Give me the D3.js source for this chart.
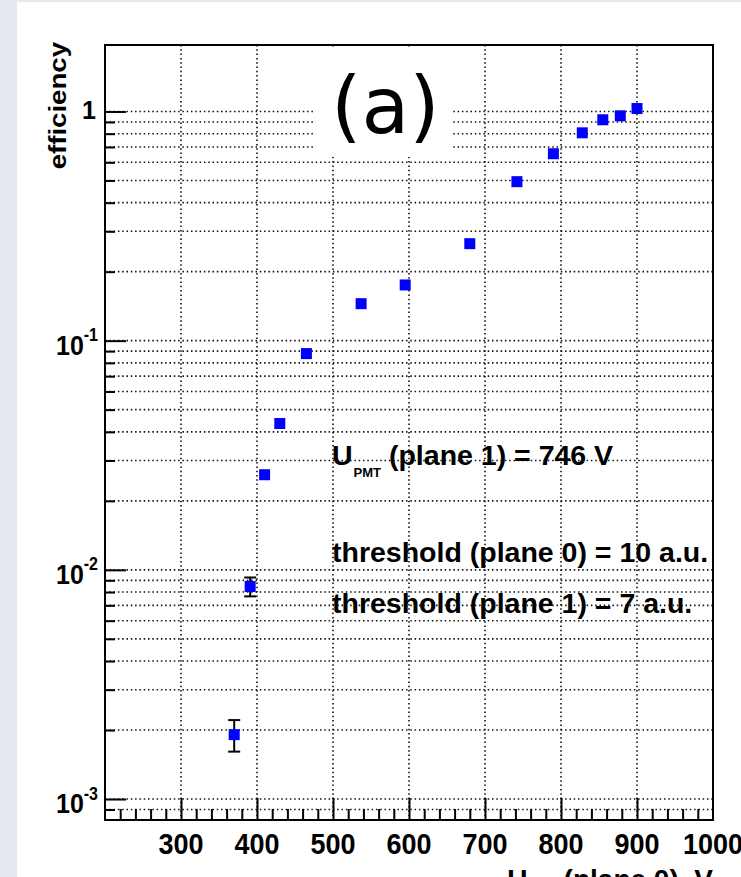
<!DOCTYPE html>
<html>
<head>
<meta charset="utf-8">
<script src="https://cdn.jsdelivr.net/npm/d3@7/dist/d3.min.js"></script>
<style>
  html, body { margin: 0; padding: 0; background: #e4e8f0; }
  svg { display: block; }
</style>
</head>
<body>
<script>
// ---- data ----
const voltages = [370, 391, 410, 430, 465, 537, 595, 680, 742, 790, 828, 855, 878, 900];
const efficiency = [0.00191, 0.00846, 0.0260, 0.0435, 0.0878, 0.145, 0.175, 0.265, 0.494, 0.654, 0.807, 0.92, 0.957, 1.03];
const effError = [0.0003, 0.0008, 0.0012, 0.0016, 0.0025, 0.003, 0.003, 0.004, 0.005, 0.006, 0.006, 0.006, 0.006, 0.006];
const xTickValues = [300, 400, 500, 600, 700, 800, 900, 1000];
const xTickLabels = ["300", "400", "500", "600", "700", "800", "900", "1000"];
const yTickValues = [0.001, 0.01, 0.1, 1];
const yTickBase = ["10", "10", "10", "1"];
const yTickExp = ["-3", "-2", "-1", ""];
const annotations = [
  { main: "U", sub: "PMT", rest: " (plane 1) = 746 V" },
  { main: "threshold (plane 0) = 10 a.u.", sub: "", rest: "" },
  { main: "threshold (plane 1) = 7 a.u.", sub: "", rest: "" }
];
const panelLabel = "(a)";
const yTitle = "efficiency";

// ---- layout ----
const W = 741, H = 877;
const L = 105, R = 713, T = 45, B = 820;
const FONT = "'Liberation Sans', Arial, Helvetica, sans-serif";

const svg = d3.select("body").append("svg").attr("width", W).attr("height", H);
svg.append("rect").attr("x", 0).attr("y", 0).attr("width", W).attr("height", H).attr("fill", "#e4e8f0");
svg.append("rect").attr("x", 17).attr("y", 2).attr("width", W - 17).attr("height", H - 2).attr("fill", "#ffffff");

const x = d3.scaleLinear().domain([200, 1000]).range([L, R]);
const y = d3.scaleLog().domain([8.1e-4, 1.95]).range([B, T]);

const allY = y.ticks().filter(v => y(v) >= T && y(v) <= B);
const majorY = allY.filter(v => Math.abs(Math.log10(v) - Math.round(Math.log10(v))) < 1e-9);
const minorY = allY.filter(v => majorY.indexOf(v) < 0);
const majorX = d3.range(300, 1000, 100);
const minorX = d3.range(220, 1000, 20).filter(v => v % 100 !== 0);

// ---- annotations (drawn under the grid) ----
const annY = [465, 562, 613];
const ann = svg.append("g").attr("font-family", FONT).attr("font-weight", "bold").attr("fill", "#000");
annotations.forEach((a, i) => {
  const t = ann.append("text").attr("x", 332).attr("y", annY[i]).attr("font-size", 28.5);
  t.append("tspan").text(a.main);
  if (a.sub) {
    t.append("tspan").attr("font-size", 13).attr("dy", 12).attr("dx", 1).text(a.sub);
    t.append("tspan").attr("dy", -12).text(a.rest);
  }
});

// ---- grid ----
const grid = svg.append("g").attr("stroke", "#111").attr("stroke-width", 1.6)
  .attr("stroke-dasharray", "1.5,2.8").attr("fill", "none");
grid.selectAll("line.h").data(allY).join("line").attr("class", "h")
  .attr("x1", L).attr("x2", R).attr("y1", d => y(d)).attr("y2", d => y(d));
grid.selectAll("line.v").data(majorX).join("line").attr("class", "v")
  .attr("x1", d => x(d)).attr("x2", d => x(d)).attr("y1", T).attr("y2", B);

// ---- panel label with white box ----
svg.append("rect").attr("x", 315).attr("y", 47).attr("width", 137).attr("height", 110).attr("fill", "#fff");
svg.append("text").attr("x", 331).attr("y", 133).attr("font-family", "'DejaVu Sans', Verdana, sans-serif")
  .attr("font-size", 78).attr("fill", "#000").text(panelLabel);

// ---- axes (ticks inside frame) ----
const axStyle = g => { g.selectAll(".domain").remove(); g.selectAll("line").attr("stroke", "#000").attr("stroke-width", 2); };
svg.append("g").attr("transform", `translate(${L},0)`)
  .call(d3.axisRight(y).tickValues(majorY).tickSize(21).tickFormat("")).call(axStyle);
svg.append("g").attr("transform", `translate(${L},0)`)
  .call(d3.axisRight(y).tickValues(minorY).tickSize(10).tickFormat("")).call(axStyle);
svg.append("g").attr("transform", `translate(0,${B})`)
  .call(d3.axisTop(x).tickValues(majorX).tickSize(22).tickFormat("")).call(axStyle);
svg.append("g").attr("transform", `translate(0,${B})`)
  .call(d3.axisTop(x).tickValues(minorX).tickSize(11).tickFormat("")).call(axStyle);

// ---- tick labels ----
const xl = svg.append("g").attr("font-family", FONT).attr("font-weight", "bold").attr("font-size", 27).attr("fill", "#000");
xTickValues.forEach((v, i) => {
  xl.append("text").attr("text-anchor", "middle")
    .attr("transform", `translate(${x(v)},854) scale(1,1.1)`).text(xTickLabels[i]);
});
const yl = svg.append("g").attr("font-family", FONT).attr("font-weight", "bold").attr("fill", "#000");
yTickValues.forEach((v, i) => {
  const yy = y(v);
  if (yTickExp[i]) {
    const t = yl.append("text").attr("text-anchor", "end").attr("font-size", 25)
      .attr("transform", `translate(98,${yy + 14}) scale(1,1.12)`);
    t.append("tspan").text(yTickBase[i]);
    t.append("tspan").attr("font-size", 16).attr("dy", -12).attr("dx", 0).text(yTickExp[i]);
  } else {
    yl.append("text").attr("text-anchor", "end").attr("font-size", 25)
      .attr("transform", `translate(96,${yy + 8}) scale(1,1.0)`).text(yTickBase[i]);
  }
});

// ---- axis titles ----
svg.append("text").attr("font-family", FONT).attr("font-weight", "bold").attr("font-size", 24)
  .attr("text-anchor", "end").attr("fill", "#000")
  .attr("transform", "translate(66,42) rotate(-90) scale(1.15,1)").text(yTitle);
const xt = svg.append("text").attr("font-family", FONT).attr("font-weight", "bold").attr("font-size", 28)
  .attr("text-anchor", "end").attr("fill", "#000").attr("x", R).attr("y", 889);
xt.append("tspan").text("U");
xt.append("tspan").attr("font-size", 13).attr("dy", 12).attr("dx", 1).text("PMT");
xt.append("tspan").attr("dy", -12).text(" (plane 0), V");

// ---- data: error bars + markers ----
const pts = voltages.map((v, i) => ({ v, e: efficiency[i], err: effError[i] }));
const eb = svg.append("g").attr("stroke", "#000").attr("stroke-width", 2);
pts.forEach(p => {
  const y1 = y(p.e + p.err), y2 = y(p.e - p.err), cx = x(p.v);
  if (y2 - y1 > 12) {
    eb.append("line").attr("x1", cx).attr("x2", cx).attr("y1", y1).attr("y2", y2);
    eb.append("line").attr("x1", cx - 6).attr("x2", cx + 6).attr("y1", y1).attr("y2", y1);
    eb.append("line").attr("x1", cx - 6).attr("x2", cx + 6).attr("y1", y2).attr("y2", y2);
  }
});
svg.append("g").selectAll("rect").data(pts).join("rect")
  .attr("x", d => x(d.v) - 5.5).attr("y", d => y(d.e) - 5.5)
  .attr("width", 11).attr("height", 11).attr("fill", "#0000ff");

// ---- frame ----
svg.append("rect").attr("x", L).attr("y", T).attr("width", R - L).attr("height", B - T)
  .attr("fill", "none").attr("stroke", "#000").attr("stroke-width", 2);
</script>
</body>
</html>
